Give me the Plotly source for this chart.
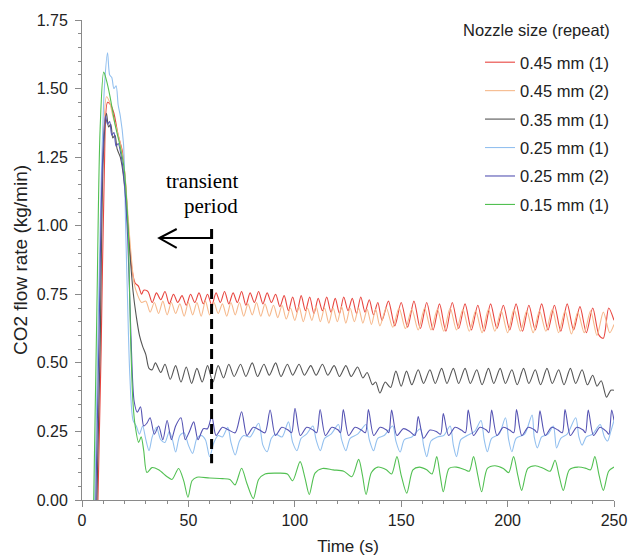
import plotly.graph_objects as go

# ---------------- data (time s, flow kg/min) ----------------
SERIES_NAMES = ["0.45 mm (1)", "0.45 mm (2)", "0.35 mm (1)", "0.25 mm (1)", "0.25 mm (2)", "0.15 mm (1)"]

RED_045_1 = [
    (7.5, 0.0), (9, 0.55), (10.5, 1.2), (12, 1.45), (13.5, 1.44), (15, 1.41), (17, 1.33), (19, 1.27),
    (20.5, 1.15), (22, 0.96), (23.5, 0.84), (25, 0.79), (26.5, 0.78), (28, 0.75), (29, 0.765),
    (31, 0.76), (33, 0.72), (35, 0.755), (37, 0.73), (39, 0.76), (41, 0.715), (43, 0.75), (45, 0.72),
    (47, 0.745), (49, 0.71), (51, 0.75), (53, 0.72), (55, 0.755), (57, 0.715), (59, 0.75), (61, 0.71),
    (63, 0.755), (65, 0.72), (67, 0.76), (69, 0.715), (71, 0.755), (73, 0.72), (75, 0.76), (77, 0.71),
    (79, 0.755), (81, 0.72), (83, 0.76), (85, 0.715), (87, 0.755), (89, 0.72), (91, 0.75), (93, 0.705),
    (95, 0.745), (97, 0.69), (99, 0.74), (101, 0.685), (103, 0.745), (105, 0.69), (107, 0.74), (109, 0.68),
    (111, 0.735), (113, 0.69), (115, 0.74), (117, 0.685), (119, 0.735), (121, 0.68), (123, 0.74), (125, 0.69),
    (127, 0.735), (129, 0.68), (131, 0.74), (133, 0.685), (135, 0.73), (137, 0.675), (139, 0.72), (141, 0.655),
    (144, 0.725), (147, 0.635), (150, 0.72), (153, 0.63), (156, 0.725), (159, 0.625), (162, 0.72), (165, 0.62),
    (168, 0.715), (171, 0.615), (174, 0.72), (177, 0.625), (180, 0.715), (183, 0.62), (186, 0.71), (189, 0.615),
    (192, 0.715), (195, 0.625), (198, 0.71), (201, 0.62), (204, 0.715), (207, 0.615), (210, 0.71), (213, 0.62),
    (216, 0.715), (219, 0.62), (222, 0.71), (225, 0.615), (228, 0.715), (231, 0.62), (234, 0.705), (237, 0.61),
    (240, 0.70), (243, 0.60), (245, 0.59), (247.5, 0.70), (250, 0.655),
]

ORANGE_045_2 = [
    (7.0, 0.0), (8.5, 0.6), (10, 1.3), (11.5, 1.47), (13, 1.45), (14.5, 1.40), (16, 1.36), (18, 1.30),
    (20, 1.2), (21.5, 1.05), (23, 0.9), (24.5, 0.79), (26, 0.75), (28, 0.72), (30, 0.725),
    (32, 0.685), (34, 0.72), (36, 0.68), (38, 0.725), (40, 0.675), (42, 0.72), (44, 0.68), (46, 0.715),
    (48, 0.67), (50, 0.72), (52, 0.675), (54, 0.72), (56, 0.67), (58, 0.725), (60, 0.675), (62, 0.72),
    (64, 0.68), (66, 0.715), (68, 0.67), (70, 0.72), (72, 0.675), (74, 0.72), (76, 0.67), (78, 0.715),
    (80, 0.675), (82, 0.72), (84, 0.67), (86, 0.715), (88, 0.67), (90, 0.71), (92, 0.665), (94, 0.71),
    (96, 0.66), (98, 0.70), (100, 0.655), (102, 0.705), (104, 0.65), (106, 0.70), (108, 0.655), (110, 0.705),
    (112, 0.65), (114, 0.70), (116, 0.645), (118, 0.70), (120, 0.65), (122, 0.705), (124, 0.645), (126, 0.70),
    (128, 0.65), (130, 0.70), (132, 0.645), (134, 0.695), (136, 0.64), (138, 0.695), (140, 0.635),
    (143, 0.70), (146, 0.63), (149, 0.70), (152, 0.625), (155, 0.695), (158, 0.62), (161, 0.70), (164, 0.62),
    (167, 0.695), (170, 0.615), (173, 0.70), (176, 0.62), (179, 0.695), (182, 0.615), (185, 0.69), (188, 0.61),
    (191, 0.695), (194, 0.615), (197, 0.69), (200, 0.61), (203, 0.695), (206, 0.615), (209, 0.69), (212, 0.61),
    (215, 0.69), (218, 0.615), (221, 0.695), (224, 0.61), (227, 0.69), (230, 0.605), (233, 0.685), (236, 0.61),
    (239, 0.69), (242, 0.60), (245, 0.685), (248, 0.61), (250, 0.64),
]

BLACK_035_1 = [
    (7, 0.0), (8.5, 0.55), (10, 1.25), (11.5, 1.41), (12.5, 1.36), (13.5, 1.37), (14.5, 1.32), (15.5, 1.33),
    (16.5, 1.28), (18, 1.25), (19.5, 1.18), (21, 1.05), (22.5, 0.9), (24, 0.76), (25.5, 0.67), (27, 0.6),
    (28.5, 0.56), (30, 0.53), (31.5, 0.48), (33, 0.475),
    (34.5, 0.50), (37, 0.465), (39, 0.495), (41.5, 0.44), (44, 0.49), (46.5, 0.43), (49, 0.485), (51.5, 0.425),
    (54, 0.48), (56.5, 0.43), (59, 0.49), (61.5, 0.43), (64, 0.49), (66.5, 0.445), (69, 0.495), (71.5, 0.45),
    (74.5, 0.495), (77, 0.45), (80, 0.50), (82.5, 0.45), (85.5, 0.495), (88, 0.455), (91, 0.50), (93.5, 0.45),
    (96.5, 0.495), (99, 0.455), (102, 0.495), (104.5, 0.455), (107.5, 0.49), (110, 0.455), (113, 0.495),
    (115.5, 0.455), (118.5, 0.49), (121, 0.45), (124, 0.49), (126.5, 0.45), (129.5, 0.485), (132, 0.445),
    (134, 0.465), (136.5, 0.42), (138, 0.43), (140, 0.39), (142.5, 0.43), (145, 0.41), (147.5, 0.47),
    (150, 0.415), (152.5, 0.47), (155, 0.42), (158, 0.475), (160.5, 0.425), (163.5, 0.475), (166, 0.425),
    (169, 0.48), (171.5, 0.425), (174.5, 0.48), (177, 0.425), (180, 0.48), (182.5, 0.425), (185.5, 0.475),
    (188, 0.42), (191, 0.48), (193.5, 0.425), (196.5, 0.48), (199, 0.425), (202, 0.475), (204.5, 0.42),
    (207.5, 0.48), (210, 0.425), (213, 0.475), (215.5, 0.42), (218.5, 0.48), (221, 0.425), (224, 0.475),
    (226.5, 0.42), (229.5, 0.48), (232, 0.425), (235, 0.475), (237.5, 0.42), (240, 0.455), (242, 0.415),
    (244, 0.435), (246.5, 0.375), (248.5, 0.40), (250, 0.40),
]

LIGHTBLUE_025_1 = [
    (6, 0.0), (7.5, 0.6), (9, 1.15), (10.5, 1.5), (12, 1.63), (13, 1.55), (14, 1.54), (15, 1.5), (16, 1.51),
    (17, 1.44), (18, 1.40), (19.5, 1.30), (20.5, 1.0), (21.5, 0.7), (22.5, 0.45), (24, 0.29), (25.5, 0.27),
    (27, 0.24), (28.5, 0.27), (30, 0.22), (31.5, 0.18), (33, 0.23), (35, 0.265), (37, 0.22), (39, 0.21),
    (41, 0.25), (42.5, 0.22), (44, 0.175), (46, 0.235), (48, 0.245), (50, 0.20), (52, 0.17), (54, 0.225),
    (56, 0.235), (58, 0.22), (60, 0.158), (62, 0.21), (64, 0.235), (66, 0.23), (68.5, 0.265), (70, 0.21),
    (72, 0.164), (74, 0.215), (76, 0.235), (79, 0.23), (83, 0.28), (85, 0.20), (87, 0.176), (89, 0.225),
    (91, 0.24), (94, 0.23), (97, 0.285), (99, 0.21), (101, 0.18), (103, 0.225), (105.5, 0.24), (108.5, 0.27),
    (110, 0.22), (112, 0.18), (114, 0.225), (117, 0.24), (120.5, 0.275), (122, 0.22), (124, 0.18), (126, 0.225),
    (129.5, 0.24), (133.5, 0.275), (135, 0.22), (137, 0.18), (139, 0.225), (142, 0.235), (146, 0.27),
    (147.5, 0.215), (149.5, 0.175), (151.5, 0.22), (155, 0.23), (159, 0.26), (160.5, 0.2), (162, 0.158),
    (164, 0.215), (167, 0.23), (170, 0.235), (173, 0.27), (174.5, 0.2), (176, 0.158), (178, 0.22), (181, 0.235),
    (184.5, 0.25), (187.5, 0.29), (189, 0.22), (190.5, 0.176), (192.5, 0.225), (196, 0.24), (199, 0.30),
    (200.5, 0.22), (202, 0.176), (204, 0.225), (208, 0.24), (211.5, 0.31), (212.5, 0.23), (214, 0.19),
    (216, 0.23), (219, 0.24), (221.5, 0.27), (223, 0.19), (225, 0.225), (228, 0.24), (232, 0.30), (233.5, 0.23),
    (235, 0.2), (237, 0.23), (240, 0.24), (243.5, 0.275), (245.5, 0.23), (247, 0.215), (248.5, 0.25),
    (250, 0.29),
]

DARKBLUE_025_2 = [
    (6.5, 0.0), (8, 0.6), (9.5, 1.2), (11, 1.40), (12, 1.37), (13, 1.38), (14, 1.33), (15, 1.34), (16, 1.29),
    (17, 1.30), (18.5, 1.25), (20, 1.15), (21.5, 0.95), (23, 0.6), (24.5, 0.36), (26, 0.32), (27.5, 0.34),
    (29, 0.27), (30.5, 0.28), (32, 0.30), (34, 0.24), (36, 0.27), (38, 0.22), (40, 0.29), (42, 0.22),
    (44, 0.27), (46.5, 0.30), (48.5, 0.22), (50.5, 0.25), (52.5, 0.285), (54.5, 0.22), (57, 0.26),
    (59, 0.26), (61, 0.305), (63, 0.235), (66, 0.265), (69, 0.255), (72, 0.245), (75, 0.322), (77.5, 0.235),
    (80.5, 0.265), (83.5, 0.255), (86, 0.245), (88.4, 0.328), (90.9, 0.235), (93.9, 0.265), (96.9, 0.255),
    (98.5, 0.245), (100.1, 0.334), (102.6, 0.235), (105.6, 0.265), (108.6, 0.255), (110.3, 0.245),
    (111.9, 0.33), (114.4, 0.235), (117.4, 0.265), (120.4, 0.255), (121.5, 0.245), (122.8, 0.33),
    (125.3, 0.235), (128.3, 0.265), (131.3, 0.255), (133.2, 0.245), (134.6, 0.33), (137.1, 0.235),
    (140.1, 0.265), (143.1, 0.255), (144.2, 0.245), (145.5, 0.328), (148, 0.235), (151, 0.26), (154, 0.25),
    (156.5, 0.235), (158, 0.304), (160.5, 0.225), (163.5, 0.255), (166.5, 0.25), (168.5, 0.24), (169.8, 0.315),
    (172.3, 0.235), (175.3, 0.265), (178.3, 0.255), (180.2, 0.245), (181.5, 0.328), (184, 0.235), (187, 0.265),
    (190, 0.255), (191.2, 0.245), (192.5, 0.328), (195, 0.235), (198, 0.265), (201, 0.255), (202.9, 0.245),
    (204.2, 0.33), (206.7, 0.235), (209.7, 0.265), (212.7, 0.255), (213.9, 0.245), (215.2, 0.325),
    (217.7, 0.235), (220.7, 0.265), (223.7, 0.255), (225.7, 0.245), (227, 0.33), (229.5, 0.235),
    (232.5, 0.265), (235.5, 0.255), (236.6, 0.245), (237.9, 0.328), (240.4, 0.235), (243.4, 0.265),
    (246.4, 0.25), (247.6, 0.24), (248.9, 0.328), (250, 0.29),
]

GREEN_015_1 = [
    (5.5, 0.0), (7, 0.7), (8.5, 1.35), (10.2, 1.56), (11.5, 1.53), (13.2, 1.47), (15.5, 1.37), (17.9, 1.29),
    (19.7, 1.215), (21, 1.09), (21.8, 0.97), (22.8, 0.6), (24, 0.35), (25, 0.27), (26.6, 0.21), (27.8, 0.23),
    (29, 0.18), (30.5, 0.10), (32.9, 0.118), (36, 0.11), (40, 0.085), (42.3, 0.075), (45.4, 0.115),
    (47.8, 0.07), (49.8, 0.01), (51.7, 0.07), (54, 0.083), (60, 0.08), (66, 0.078), (69.5, 0.075),
    (71.9, 0.055), (75, 0.116), (77.5, 0.06), (80.5, 0.005), (83, 0.075), (86, 0.095), (92, 0.098),
    (96.5, 0.095), (99, 0.07), (102.5, 0.14), (104.8, 0.08), (106.8, 0.02), (109.5, 0.098), (113, 0.115),
    (118, 0.11), (123, 0.105), (126.8, 0.085), (130, 0.148), (131.8, 0.09), (133.5, 0.02), (136, 0.10),
    (139, 0.12), (143, 0.11), (145.5, 0.095), (148, 0.158), (150, 0.09), (152.6, 0.025), (155.5, 0.11),
    (158.5, 0.12), (162, 0.11), (164.5, 0.095), (166.7, 0.158), (168.3, 0.09), (169.8, 0.03), (172.5, 0.115),
    (176, 0.12), (180, 0.11), (182, 0.105), (184, 0.158), (186, 0.09), (187.8, 0.03), (190.5, 0.115),
    (194, 0.125), (198, 0.115), (200.5, 0.10), (202.8, 0.158), (204.8, 0.09), (206.6, 0.035), (209.5, 0.115),
    (213, 0.125), (217, 0.115), (220, 0.105), (222.3, 0.145), (224.3, 0.085), (226.2, 0.035), (229, 0.11),
    (233, 0.12), (237, 0.115), (239, 0.11), (241, 0.158), (243, 0.09), (245, 0.035), (247.5, 0.105),
    (250, 0.12),
]

SERIES_DATA = [RED_045_1, ORANGE_045_2, BLACK_035_1, LIGHTBLUE_025_1, DARKBLUE_025_2, GREEN_015_1]
SERIES_COLORS = ["#e8453f", "#f6b98c", "#555555", "#93c0ef", "#5553b3", "#52c052"]

X_TICKS = [0, 50, 100, 150, 200, 250]
Y_TICKS = [0.00, 0.25, 0.50, 0.75, 1.00, 1.25, 1.50, 1.75]

# annotation geometry (data coordinates)
TRANSIENT_END_T = 60.9
ARROW_TIP_T = 36.3
ARROW_Y = 0.955
DASH_TOP = 0.988
DASH_BOTTOM = 0.134

SANS = "Liberation Sans, Arial, sans-serif"
SERIF = "Liberation Serif, Times New Roman, serif"
AXIS_GREY = "#8a8a8a"
TEXT = "#222222"

fig = go.Figure()
for name, pts, col in zip(SERIES_NAMES, SERIES_DATA, SERIES_COLORS):
    fig.add_trace(go.Scatter(
        x=[p[0] for p in pts], y=[p[1] for p in pts], mode="lines", name=name,
        legendgroup=name,
        line=dict(color=col, width=1.1, shape="spline", smoothing=0.8),
    ))

# transient period marker
fig.add_shape(type="line", x0=TRANSIENT_END_T, x1=TRANSIENT_END_T, y0=DASH_TOP, y1=DASH_BOTTOM,
              line=dict(color="black", width=3, dash="10px,5px"))
fig.add_shape(type="line", x0=TRANSIENT_END_T, x1=ARROW_TIP_T, y0=ARROW_Y, y1=ARROW_Y,
              line=dict(color="black", width=2))
fig.add_shape(type="path",
              path=f"M {ARROW_TIP_T + 8.2},{ARROW_Y + 0.033} L {ARROW_TIP_T},{ARROW_Y} L {ARROW_TIP_T + 8.2},{ARROW_Y - 0.036}",
              line=dict(color="black", width=2))

fig.add_annotation(x=74.2, y=1.163, xref="x", yref="y", text="transient", showarrow=False,
                   xanchor="right", yanchor="middle", font=dict(family=SERIF, size=21, color="black"))
fig.add_annotation(x=74.2, y=1.072, xref="x", yref="y", text="period", showarrow=False,
                   xanchor="right", yanchor="middle", font=dict(family=SERIF, size=21, color="black"))

# legend title as separate text
fig.add_annotation(x=0.996, y=0.979, xref="paper", yref="paper", text="Nozzle size (repeat)",
                   showarrow=False, xanchor="right", yanchor="middle",
                   font=dict(family=SANS, size=16.5, color=TEXT))

axis_common = dict(showline=True, linecolor=AXIS_GREY, linewidth=1, showgrid=False, zeroline=False,
                   ticks="outside", ticklen=6, tickcolor=AXIS_GREY, tickwidth=1, automargin=False,
                   tickfont=dict(family=SANS, size=16, color=TEXT))

fig.update_layout(
    width=630, height=556,
    margin=dict(l=82, r=16, t=20, b=56),
    paper_bgcolor="white", plot_bgcolor="white",
    font=dict(family=SANS, size=16, color=TEXT),
    xaxis=dict(range=[0, 250], tickvals=X_TICKS, ticktext=[str(v) for v in X_TICKS],
               minor=dict(dtick=10, ticks="outside", ticklen=3, tickcolor=AXIS_GREY),
               title=dict(text="Time (s)", font=dict(family=SANS, size=17, color=TEXT), standoff=12),
               **axis_common),
    yaxis=dict(range=[0, 1.75], tickvals=Y_TICKS, ticktext=[f"{v:.2f}" for v in Y_TICKS],
               minor=dict(dtick=0.05, ticks="outside", ticklen=3, tickcolor=AXIS_GREY),
               ticklabelstandoff=4,
               title=dict(text="CO2 flow rate (kg/min)", font=dict(family=SANS, size=19, color=TEXT), standoff=4),
               **axis_common),
    showlegend=True,
    legend=dict(x=1.0, xanchor="right", y=0.948, yanchor="top", bgcolor="rgba(0,0,0,0)",
                font=dict(family=SANS, size=16.5, color=TEXT), traceorder="grouped",
                tracegroupgap=4, itemwidth=30),
)

fig.write_html("out.html", post_script="document.body.style.margin='0';",
               config={"displayModeBar": False})
